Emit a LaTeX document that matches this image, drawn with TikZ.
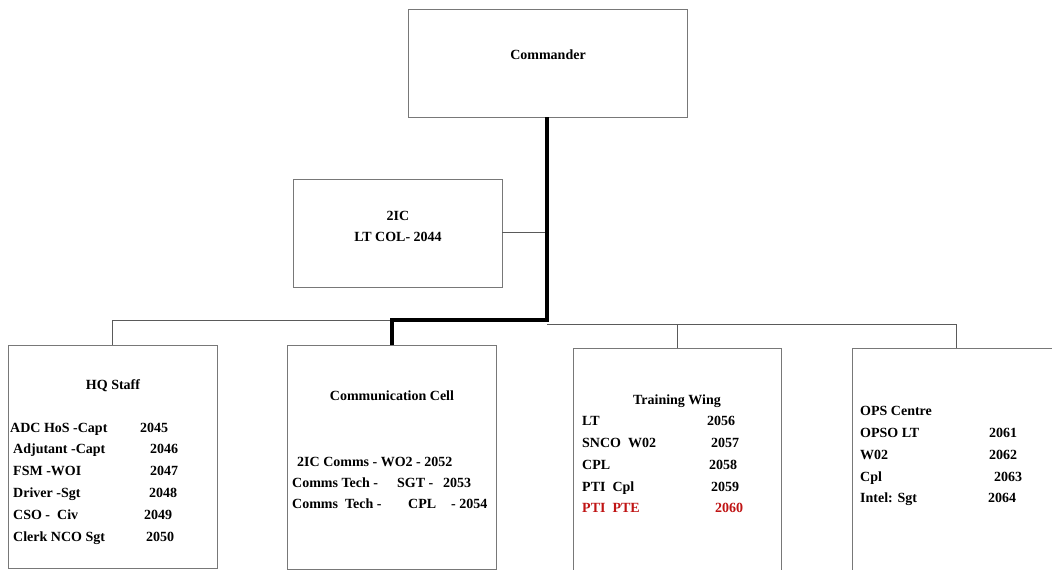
\documentclass[tikz,border=0pt]{standalone}
\usepackage{fontspec}
\setmainfont{Liberation Serif}
\definecolor{boxgrey}{RGB}{120,120,120}
\definecolor{linegrey}{RGB}{90,90,90}
\definecolor{ptered}{RGB}{192,20,20}
\begin{document}
\begin{tikzpicture}[x=1pt,y=-1pt,
  unitbox/.style={draw=boxgrey,line width=1pt,fill=white},
  thin link/.style={draw=linegrey,line width=1pt},
  chain/.style={draw=black,line width=4pt,line join=miter},
  lbl/.style={font=\fontsize{14}{16}\selectfont\bfseries,inner sep=0pt,
    text height=9.3pt,text depth=0pt},
  item/.style={lbl,anchor=west},
  redtext/.style={text=ptered}]
\useasboundingbox (0,0) rectangle (1052,570);

% unit boxes
\path[unitbox] (408,9) rectangle (687,117);
\coordinate (cmdbot) at (547,117);
\path[unitbox] (293,179) rectangle (502,287);
\coordinate (ic2right) at (502,232);
\path[unitbox] (8,345) rectangle (217,568);
\path[unitbox] (287,345) rectangle (496,569);
\path[unitbox] (573,348) rectangle (781,575);
\path[unitbox] (852,348) rectangle (1060,575);

% connectors
\coordinate (spine) at (547,320);
\coordinate (spineR) at (547,324);
\coordinate (ic2join) at (547,232);
\coordinate (hqtop) at (112,345);
\coordinate (hqjoin) at (112,320);
\coordinate (commjoin) at (392,320);
\coordinate (commtop) at (392,345);
\coordinate (trjoin) at (677,324);
\coordinate (trtop) at (677,348);
\coordinate (opsjoin) at (956,324);
\coordinate (opstop) at (956,348);

\draw[thin link] (ic2right) -- (ic2join);
\draw[thin link] (hqtop) -- (hqjoin) -- (commjoin);
\draw[thin link] (spineR) -- (opsjoin) -- (opstop);
\draw[thin link] (trjoin) -- (trtop);
\draw[chain] (cmdbot) -- (spine) -- (commjoin) -- (commtop);

% Commander
\node[lbl] (cmd) at (548,55) {Commander};

% 2IC
\node[lbl] (ic2a) at (398,216) {2IC};
\node[lbl] (ic2b) at (398,237) {LT COL- 2044};

% HQ Staff
\node[lbl] (hq) at (113,385) {HQ Staff};
\node[item] (hq1) at (10,428) {ADC HoS -Capt};
\node[item] (hq1n) at (140,428) {2045};
\node[item] (hq2) at (13,449) {Adjutant -Capt};
\node[item] (hq2n) at (150,449) {2046};
\node[item] (hq3) at (13,471) {FSM -WOI};
\node[item] (hq3n) at (150,471) {2047};
\node[item] (hq4) at (13,493) {Driver -Sgt};
\node[item] (hq4n) at (149,493) {2048};
\node[item] (hq5) at (13,515) {CSO -\ \ Civ};
\node[item] (hq5n) at (144,515) {2049};
\node[item] (hq6) at (13,537) {Clerk NCO Sgt};
\node[item] (hq6n) at (146,537) {2050};

% Communication Cell
\node[lbl] (comm) at (392,396) {Communication Cell};
\node[item] (cm1) at (297,462) {2IC Comms - WO2 - 2052};
\node[item] (cm2) at (292,483) {Comms Tech -};
\node[item] (cm2r) at (397,483) {SGT -};
\node[item] (cm2n) at (443,483) {2053};
\node[item] (cm3) at (292,504) {Comms\ \ Tech -};
\node[item] (cm3r) at (408,504) {CPL};
\node[item] (cm3n) at (451,504) {- 2054};

% Training Wing
\node[lbl] (tw) at (677,400) {Training Wing};
\node[item] (tw1) at (582,421) {LT};
\node[item] (tw1n) at (707,421) {2056};
\node[item] (tw2) at (582,443) {SNCO\ \ W02};
\node[item] (tw2n) at (711,443) {2057};
\node[item] (tw3) at (582,465) {CPL};
\node[item] (tw3n) at (709,465) {2058};
\node[item] (tw4) at (582,487) {PTI\ \ Cpl};
\node[item] (tw4n) at (711,487) {2059};
\node[item,redtext] (tw5) at (582,508) {PTI\ \ PTE};
\node[item,redtext] (tw5n) at (715,508) {2060};

% OPS Centre
\node[item] (ops) at (860,411) {OPS Centre};
\node[item] (op1) at (860,433) {OPSO LT};
\node[item] (op1n) at (989,433) {2061};
\node[item] (op2) at (860,455) {W02};
\node[item] (op2n) at (989,455) {2062};
\node[item] (op3) at (860,477) {Cpl};
\node[item] (op3n) at (994,477) {2063};
\node[item] (op4) at (860,498) {Intel: Sgt};
\node[item] (op4n) at (988,498) {2064};
\end{tikzpicture}
\end{document}
